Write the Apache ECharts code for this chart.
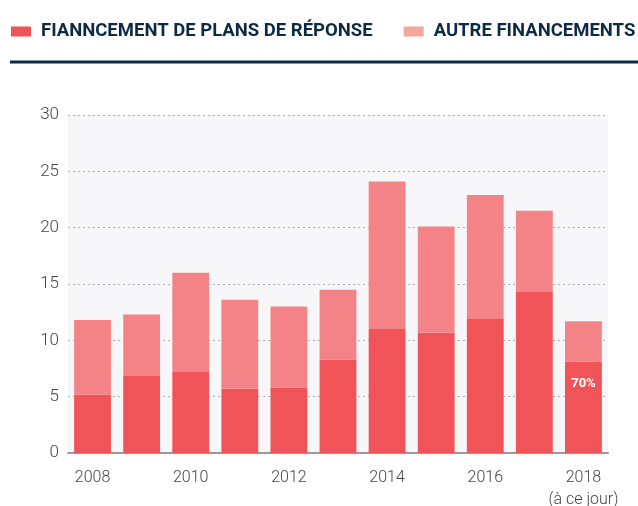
<!DOCTYPE html>
<html>
<head>
<meta charset="utf-8">
<script src="https://cdn.jsdelivr.net/npm/echarts@6/dist/echarts.min.js"></script>
<style>
  html, body { margin: 0; padding: 0; background: #fff; }
  #chart { width: 638px; height: 506px; }
</style>
</head>
<body>
<div id="chart"></div>
<script>
  // années
  const years = ['2008', '2009', '2010', '2011', '2012', '2013', '2014', '2015', '2016', '2017', '2018'];
  // financement de plans de réponse (milliards)
  const plans = [5.2, 6.9, 7.2, 5.7, 5.8, 8.3, 11.0, 10.7, 11.9, 14.3, 8.1];
  // autres financements (partie empilée)
  const autres = [6.6, 5.4, 8.8, 7.9, 7.2, 6.2, 13.1, 9.4, 11.0, 7.2, 3.6];
  const yTicks = [0, 5, 10, 15, 20, 25, 30];
  const lastLabel = '70%';

  const seriesNames = ['FIANNCEMENT DE PLANS DE RÉPONSE', 'AUTRE FINANCEMENTS'];

  let myChart = echarts.init(document.getElementById('chart'));

  let plansData = plans.map(function (v, i) {
    if (i === plans.length - 1) {
      return {
        value: v,
        label: {
          show: true,
          position: 'insideTop',
          distance: 16,
          formatter: lastLabel,
          color: '#fff',
          fontWeight: 'bold',
          fontSize: 13,
          fontFamily: 'Roboto'
        }
      };
    }
    return v;
  });

  myChart.setOption({
    animation: false,
    legend: {
      left: 11,
      top: 22,
      padding: 0,
      itemWidth: 20,
      itemHeight: 10,
      itemGap: 31,
      icon: 'rect',
      textStyle: {
        color: '#0d2a45',
        fontSize: 18.5,
        fontWeight: 'bold',
        fontFamily: 'Roboto, sans-serif',
        padding: [0, 0, 0, 5]
      },
      data: [
        {name: seriesNames[0], itemStyle: {color: '#f05358'}},
        {name: seriesNames[1], itemStyle: {color: '#f4a79a'}}
      ]
    },
    graphic: [{
      type: 'line',
      shape: {x1: 10, y1: 62, x2: 638, y2: 62},
      style: {stroke: '#0d2a45', lineWidth: 3}
    }],
    grid: {
      left: 68,
      right: 30,
      top: 115,
      bottom: 53,
      outerBoundsMode: 'none',
      containLabel: false,
      show: true,
      backgroundColor: '#f7f7f9',
      borderWidth: 0
    },
    xAxis: {
      type: 'category',
      data: years,
      axisTick: {show: false},
      axisLine: {lineStyle: {color: '#999', width: 2}},
      axisLabel: {
        interval: 1,
        margin: 14,
        color: '#444',
        fontSize: 16,
        fontWeight: 300,
        fontFamily: 'Roboto',
        lineHeight: 22,
        formatter: function (v) {
          return v === '2018' ? v + '\n(à ce jour)' : v;
        }
      }
    },
    yAxis: {
      type: 'value',
      min: yTicks[0],
      max: yTicks[yTicks.length - 1],
      interval: 5,
      axisLine: {show: false},
      axisTick: {show: false},
      axisLabel: {
        color: '#444',
        fontSize: 17,
        fontWeight: 300,
        fontFamily: 'Roboto',
        margin: 9
      },
      splitLine: {
        lineStyle: {color: '#aaaab2', type: [2, 3], width: 1}
      }
    },
    series: [
      {
        name: seriesNames[0],
        type: 'bar',
        stack: 'total',
        barWidth: '75%',
        itemStyle: {color: '#f05358'},
        data: plansData
      },
      {
        name: seriesNames[1],
        type: 'bar',
        stack: 'total',
        barWidth: '75%',
        itemStyle: {color: '#f48388'},
        data: autres
      }
    ]
  });
</script>
</body>
</html>
